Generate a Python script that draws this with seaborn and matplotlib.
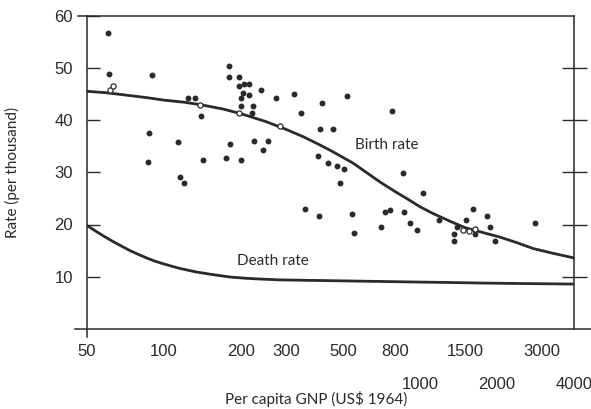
import numpy as np
import pandas as pd
import matplotlib
matplotlib.use("Agg")
import matplotlib.pyplot as plt
import seaborn as sns

# countries: per capita GNP (US$ 1964) and birth rate (per thousand)
gnp = [60.6, 61.0, 86.7, 87.6, 89.7, 113.7, 115, 119.5, 123.7, 132, 139.6, 142,
       174.7, 181, 180, 180, 196.6, 196, 205, 215, 204, 215, 200.7, 199, 223, 220,
       239, 199, 225, 254, 243, 275, 322, 343, 416, 520, 407, 458, 398, 436, 476,
       506, 487, 356, 403, 545, 553, 775, 860, 1026, 707, 730, 763, 866, 915, 971,
       1187, 1360, 1360, 1397, 1520, 1615, 1640, 1836, 1873, 1972, 2826]
birth = [56.7, 48.8, 31.9, 37.6, 48.7, 35.8, 29.1, 27.9, 44.2, 44.3, 40.7, 32.4,
         32.8, 35.4, 50.4, 48.2, 48.2, 46.6, 46.9, 46.9, 45.1, 44.8, 44.2, 42.7, 42.7, 41.3,
         45.8, 32.3, 36.0, 36.0, 34.2, 44.3, 44.9, 41.4, 43.2, 44.5, 38.2, 38.2, 33.1, 31.8, 31.2,
         30.7, 27.9, 22.9, 21.7, 22.1, 18.3, 41.8, 29.9, 26.0, 19.5, 22.3, 22.8, 22.3, 20.3, 19.0,
         20.8, 18.2, 16.8, 19.5, 20.9, 23.0, 18.2, 21.7, 19.6, 16.8, 20.3]

# points drawn hollow where they sit on the curve
gnp_open = [61.5, 63.4, 138, 197, 284, 1474, 1561, 1644]
birth_open = [45.8, 46.5, 42.9, 41.4, 38.9, 19.0, 18.8, 19.2]

# fitted curves
birth_x = [50, 60, 70, 85, 100, 120, 140, 170, 200, 250, 300, 350, 400, 450, 550, 620, 700,
           800, 900, 1000, 1125, 1300, 1500, 1750, 2050, 2400, 2770, 3300, 4000]
birth_y = [45.5, 45.2, 44.8, 44.3, 43.8, 43.4, 42.9, 42.1, 41.2, 39.7, 38.2, 36.8, 35.4,
           34.1, 31.7, 29.9, 28.1, 26.3, 24.8, 23.4, 22.1, 20.7, 19.4, 18.5, 17.6, 16.5, 15.4,
           14.5, 13.6]
death_x = [50, 54.6, 58, 63.4, 68, 73.6, 80, 85.5, 92, 99, 115, 134, 155.5, 181, 210, 240,
           284, 380, 516, 700, 940, 1300, 1713, 2500, 4000]
death_y = [19.8, 18.6, 17.8, 16.7, 15.9, 15.0, 14.2, 13.6, 13.0, 12.5, 11.6, 10.9, 10.4,
           9.95, 9.7, 9.55, 9.4, 9.3, 9.2, 9.1, 9.0, 8.9, 8.8, 8.7, 8.6]

row1 = [50, 100, 200, 300, 500, 800, 1500, 3000]
row2 = [1000, 2000, 4000]

sns.set_style("white")
plt.rcParams['font.family'] = ['Liberation Sans', 'DejaVu Sans']
label_font = ["Lato", "DejaVu Sans"]

ink = "#2a2a2a"
fig = plt.figure(figsize=(5.91, 4.09), dpi=100)
ax = fig.add_axes([87 / 591, 1 - 329 / 409, (574 - 87) / 591, (329 - 15.5) / 409])

sns.lineplot(x=birth_x, y=birth_y, ax=ax, color=ink, lw=2.0, sort=False)
sns.lineplot(x=death_x, y=death_y, ax=ax, color=ink, lw=2.0, sort=False)
sns.scatterplot(x=gnp, y=birth, ax=ax, color=ink, s=18, linewidth=0, zorder=3)
sns.scatterplot(x=gnp_open, y=birth_open, ax=ax, facecolor="white", edgecolor=ink,
                s=14, linewidth=0.9, zorder=3)

ax.set_xscale("log")
ax.set_xlim(50, 4000)
ax.set_ylim(0, 60)

for s in ax.spines.values():
    s.set_color(ink)
    s.set_linewidth(1.1)
ax.spines["bottom"].set_bounds(45, 6000)
ax.spines["top"].set_bounds(46, 4000)
ax.spines["left"].set_bounds(-1.5, 60)

# x ticks: first row short inward, second row long downward
ax.xaxis.remove_overlapping_locs = False
ax.set_xticks(row1 + row2, labels=[str(v) for v in row1] + [""] * len(row2))
ax.set_xticks(row2, labels=[str(v) for v in row2], minor=True)
ax.tick_params(axis="x", which="major", direction="in", length=10, width=1,
               color=ink, pad=10.5, labelsize=12, labelcolor=ink)
ax.tick_params(axis="x", which="minor", direction="out", length=30, width=1,
               color=ink, pad=4.5, labelsize=12, labelcolor=ink)

ax.set_yticks([10, 20, 30, 40, 50, 60])
ax.tick_params(axis="y", which="major", direction="in", length=9, width=1,
               color=ink, pad=10, labelsize=12, labelcolor=ink)

ax2 = ax.twinx()
ax2.set_ylim(0, 60)
ax2.set_yticks([10, 20, 30, 40, 50])
ax2.tick_params(axis="y", direction="inout", length=18, width=1, color=ink, labelright=False)
for s in ax2.spines.values():
    s.set_visible(False)

ax.text(558, 35.2, "Birth rate", fontsize=11, color=ink, family=label_font, va="center")
ax.text(192, 13.1, "Death rate", fontsize=11, color=ink, family=label_font, va="center")

ax.set_xlabel("Per capita GNP (US$ 1964)", fontsize=11, color=ink, family=label_font)
ax.xaxis.set_label_coords(0.47, -0.198)
ax.set_ylabel("Rate (per thousand)", fontsize=11, color=ink, family=label_font, labelpad=25)

fig.savefig("out.png", dpi=100, facecolor="white")
